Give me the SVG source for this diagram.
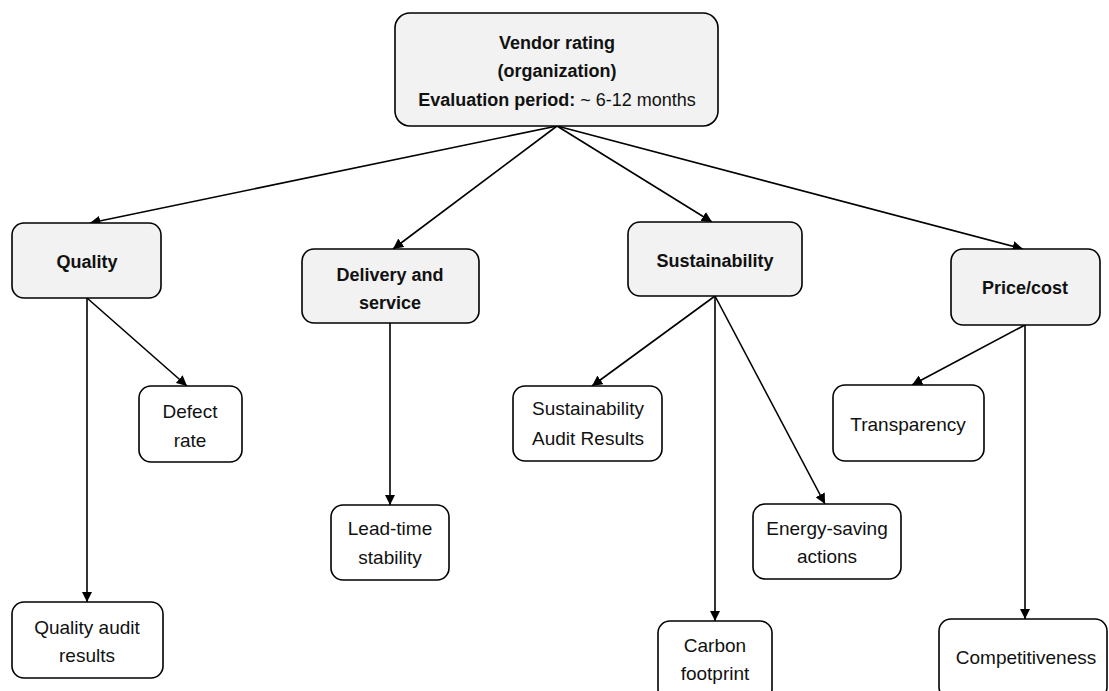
<svg xmlns="http://www.w3.org/2000/svg" width="1109" height="691" viewBox="0 0 1109 691">
  <style>
    .box { stroke: #000; stroke-width: 1.6; }
    .main { fill: #f2f2f2; }
    .leaf { fill: #fff; }
    text { font-family: "Liberation Sans", Arial, sans-serif; font-size: 19px; fill: #111; text-anchor: middle; }
    .b { font-weight: bold; font-size: 18px; }
    .hd { font-size: 18px; }
    .edge { stroke: #000; stroke-width: 1.6; fill: none; marker-end: url(#arrow); }
  </style>
  <defs>
    <marker id="arrow" viewBox="0 0 10 10" refX="10" refY="5" markerWidth="6.5" markerHeight="6.5" markerUnits="strokeWidth" orient="auto">
      <path d="M0,0 L10,5 L0,10 z" fill="#000"/>
    </marker>
  </defs>
  <rect width="1109" height="691" fill="#fff"/>

  <g id="connectors">
    <line class="edge" x1="557" y1="126" x2="90" y2="223"/>
    <line class="edge" x1="557" y1="126" x2="393" y2="249"/>
    <line class="edge" x1="557" y1="126" x2="712" y2="222"/>
    <line class="edge" x1="557" y1="126" x2="1023" y2="249"/>
    <line class="edge" x1="87" y1="298" x2="187" y2="386"/>
    <line class="edge" x1="87" y1="298" x2="87" y2="602"/>
    <line class="edge" x1="390" y1="323" x2="390" y2="505"/>
    <line class="edge" x1="715" y1="296" x2="592" y2="386"/>
    <line class="edge" x1="715" y1="296" x2="715" y2="621"/>
    <line class="edge" x1="715" y1="296" x2="825" y2="504"/>
    <line class="edge" x1="1025" y1="325" x2="912" y2="385"/>
    <line class="edge" x1="1025" y1="325" x2="1025" y2="619"/>
  </g>

  <g id="vendor-rating">
    <rect class="box main" x="395" y="13" width="323" height="113" rx="15"/>
    <text class="b" x="557" y="49">Vendor rating</text>
    <text class="b" x="557" y="77">(organization)</text>
    <text class="hd" x="557" y="106"><tspan class="b">Evaluation period:</tspan> ~ 6-12 months</text>
  </g>

  <g id="quality">
    <rect class="box main" x="12" y="223" width="149" height="75" rx="12"/>
    <text class="b" x="87" y="268">Quality</text>
  </g>
  <g id="defect-rate">
    <rect class="box leaf" x="139" y="386" width="103" height="76" rx="12"/>
    <text x="190" y="418">Defect</text>
    <text x="190" y="447">rate</text>
  </g>
  <g id="quality-audit">
    <rect class="box leaf" x="12" y="602" width="151" height="76" rx="12"/>
    <text x="87" y="634">Quality audit</text>
    <text x="87" y="662">results</text>
  </g>

  <g id="delivery">
    <rect class="box main" x="302" y="249" width="177" height="74" rx="12"/>
    <text class="b" x="390" y="281">Delivery and</text>
    <text class="b" x="390" y="309">service</text>
  </g>
  <g id="lead-time">
    <rect class="box leaf" x="331" y="505" width="118" height="75" rx="12"/>
    <text x="390" y="535">Lead-time</text>
    <text x="390" y="564">stability</text>
  </g>

  <g id="sustainability">
    <rect class="box main" x="628" y="222" width="174" height="74" rx="12"/>
    <text class="b" x="715" y="267">Sustainability</text>
  </g>
  <g id="sustainability-audit">
    <rect class="box leaf" x="513" y="386" width="149" height="75" rx="12"/>
    <text x="588" y="415">Sustainability</text>
    <text x="588" y="445">Audit Results</text>
  </g>
  <g id="carbon-footprint">
    <rect class="box leaf" x="658" y="621" width="114" height="80" rx="12"/>
    <text x="715" y="652">Carbon</text>
    <text x="715" y="680">footprint</text>
  </g>
  <g id="energy-saving">
    <rect class="box leaf" x="753" y="504" width="148" height="75" rx="12"/>
    <text x="827" y="535">Energy-saving</text>
    <text x="827" y="563">actions</text>
  </g>

  <g id="price-cost">
    <rect class="box main" x="951" y="249" width="149" height="76" rx="12"/>
    <text class="b" x="1025" y="294">Price/cost</text>
  </g>
  <g id="transparency">
    <rect class="box leaf" x="833" y="385" width="151" height="76" rx="12"/>
    <text x="908" y="431">Transparency</text>
  </g>
  <g id="competitiveness">
    <rect class="box leaf" x="939" y="619" width="168" height="80" rx="12"/>
    <text x="1026" y="664">Competitiveness</text>
  </g>
</svg>
